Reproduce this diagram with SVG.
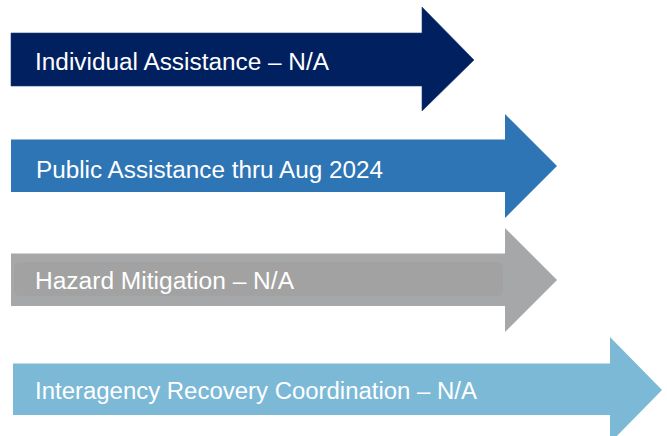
<svg xmlns="http://www.w3.org/2000/svg" width="667" height="436" viewBox="0 0 667 436">
<style>
.lbl{font-family:"Liberation Sans","Arial",sans-serif;font-size:23px;fill:#ffffff}
</style>
<rect width="667" height="436" fill="#ffffff"/>
<g id="arrow-ia">
<polygon points="11,33 422,33 422,7 474,60 422,111 422,86 11,86" fill="#002060" stroke="#1f3a78" stroke-width="0.6"/>
<text class="lbl" x="35" y="70" textLength="294" lengthAdjust="spacingAndGlyphs">Individual Assistance – N/A</text>
</g>
<g id="arrow-pa">
<polygon points="11,139.5 505,139.5 505,114 557,166 505,218 505,192 11,192" fill="#2E75B6"/>
<text class="lbl" x="36" y="178" textLength="347" lengthAdjust="spacingAndGlyphs">Public Assistance thru Aug 2024</text>
</g>
<g id="arrow-hm">
<polygon points="11,253.5 505,253.5 505,228 557,280 505,332 505,306 11,306" fill="#A6A7A9"/>
<rect x="14" y="262" width="489" height="34" rx="6" fill="#A2A2A2"/>
<text class="lbl" x="35" y="289" textLength="259" lengthAdjust="spacingAndGlyphs">Hazard Mitigation – N/A</text>
</g>
<g id="arrow-irc">
<polygon points="13,363.5 610,363.5 610,337 662,390 610,443 610,415 13,415" fill="#7BB9D7"/>
<text class="lbl" x="35" y="399" textLength="442" lengthAdjust="spacingAndGlyphs">Interagency Recovery Coordination – N/A</text>
</g>
<g id="connectors"></g>
</svg>
